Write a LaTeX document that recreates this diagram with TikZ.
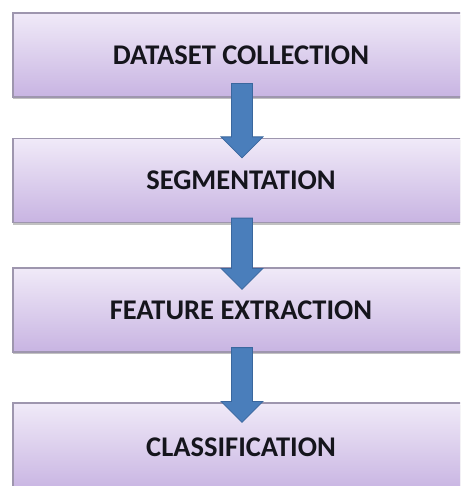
\documentclass[tikz,border=0pt]{standalone}
\usepackage{fontspec}
\setmainfont{Carlito}
\usetikzlibrary{shadows,calc}
\definecolor{boxtop}{HTML}{F0EAF8}
\definecolor{boxbot}{HTML}{C8B4E2}
\definecolor{boxborder}{HTML}{9E96AE}
\definecolor{textc}{HTML}{15151C}
\definecolor{arrowfill}{HTML}{4A7EBB}
\definecolor{arrowedge}{HTML}{3A679E}
\newcommand{\blockarrow}[2]{%
  \draw[barrow] ($(#1)+(-10.5,0)$) -- ($(#1)+(10.5,0)$) -- ($(#2)+(10.5,-21)$)
    -- ($(#2)+(21,-21)$) -- (#2) -- ($(#2)+(-21,-21)$) -- ($(#2)+(-10.5,-21)$) -- cycle;}
\begin{document}
\begin{tikzpicture}[x=1pt,y=-1pt,
  box/.style={draw=boxborder, line width=1.2pt, top color=boxtop, bottom color=boxbot,
    minimum width=480pt, minimum height=84pt, inner sep=0pt,
    font=\fontsize{28.5}{32}\selectfont\bfseries, text=textc,
    drop shadow={shadow xshift=0pt,shadow yshift=-2pt,opacity=0.35,fill=black!70}},
  barrow/.style={fill=arrowfill, draw=arrowedge, line width=0.8pt, line join=miter}]
\useasboundingbox (0,0) rectangle (460,486);
\clip (0,0) rectangle (460,486);
\node[box] (b1) at (253,55) {\hspace*{-24pt}DATASET COLLECTION};
\node[box] (b2) at (253,180.5) {\hspace*{-24pt}SEGMENTATION};
\node[box] (b3) at (253,310) {\hspace*{-24pt}FEATURE EXTRACTION};
\node[box, minimum height=88pt] (b4) at (253,447) {\hspace*{-24pt}CLASSIFICATION};
\coordinate (a1s) at ([xshift=-11pt,yshift=14pt]b1.south);
\coordinate (a1e) at ([xshift=-11pt,yshift=-20pt]b2.north);
\coordinate (a2s) at ([xshift=-11pt,yshift=5pt]b2.south);
\coordinate (a2e) at ([xshift=-11pt,yshift=-22pt]b3.north);
\coordinate (a3s) at ([xshift=-11pt,yshift=5pt]b3.south);
\coordinate (a3e) at ([xshift=-11pt,yshift=-20pt]b4.north);
\blockarrow{a1s}{a1e}
\blockarrow{a2s}{a2e}
\blockarrow{a3s}{a3e}
\end{tikzpicture}
\end{document}
